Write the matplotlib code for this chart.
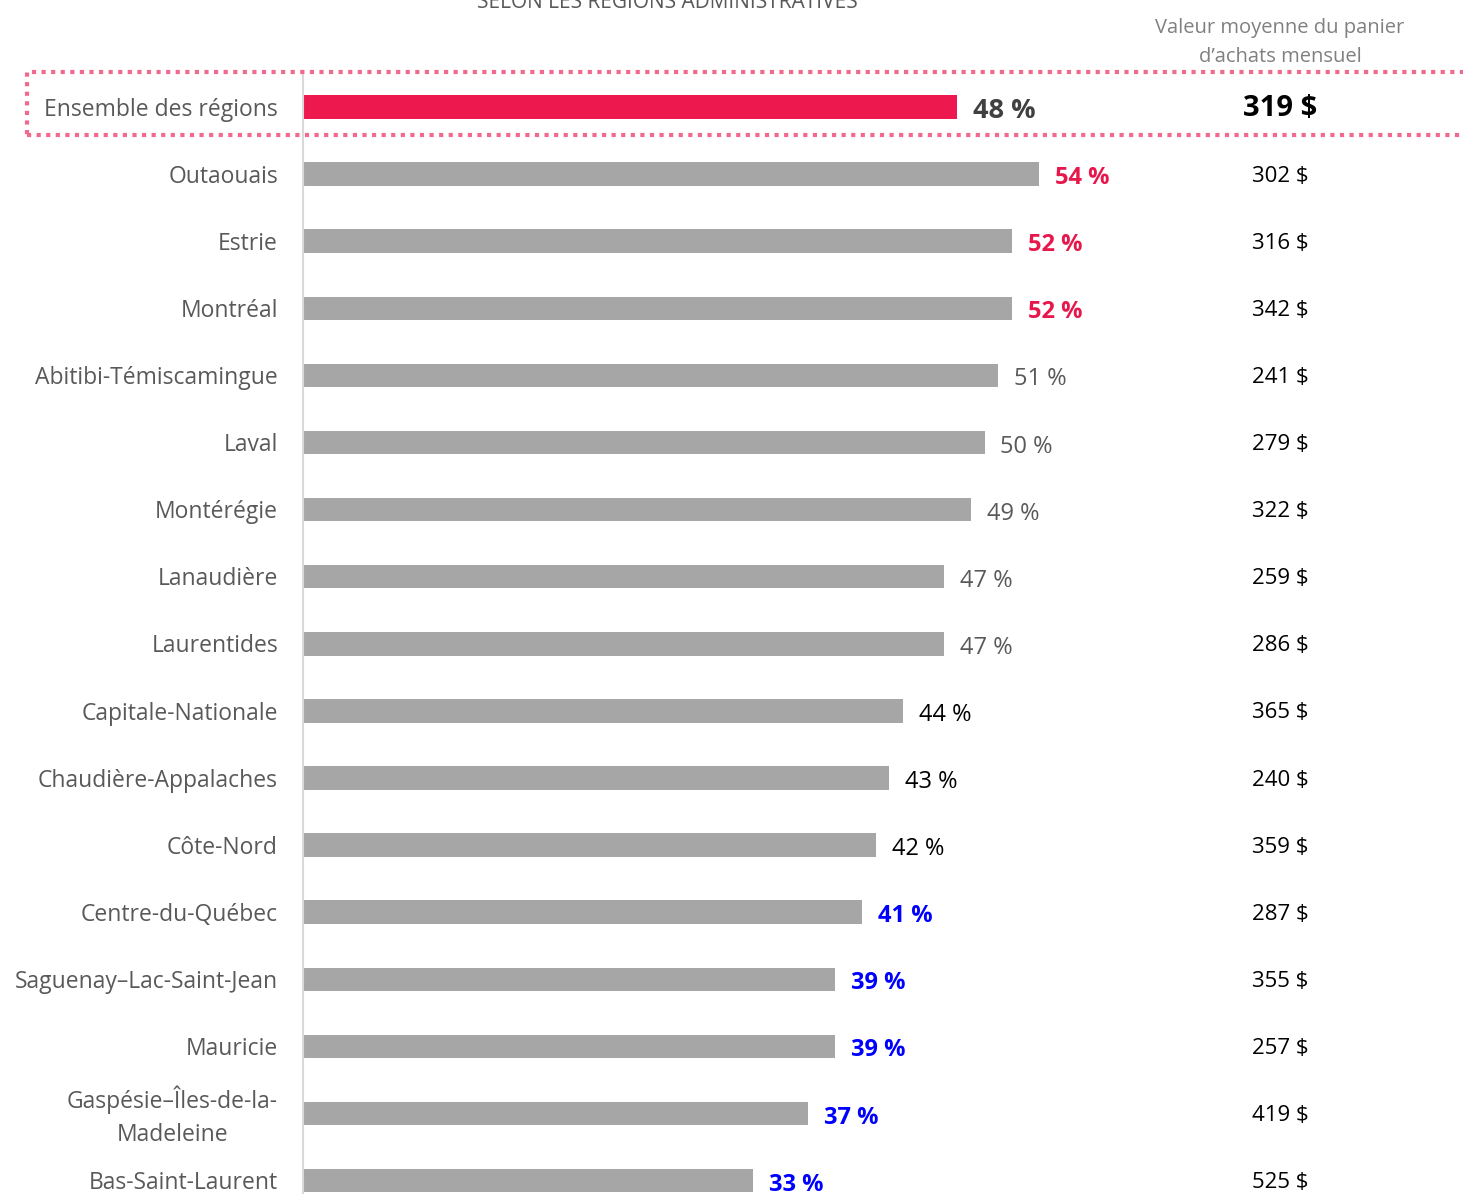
import matplotlib
matplotlib.use("Agg")
import matplotlib.pyplot as plt
from matplotlib.patches import Rectangle

plt.rcParams["font.family"] = ["Open Sans", "DejaVu Sans"]

regions = [
    "Ensemble des régions", "Outaouais", "Estrie", "Montréal",
    "Abitibi-Témiscamingue", "Laval", "Montérégie", "Lanaudière",
    "Laurentides", "Capitale-Nationale", "Chaudière-Appalaches",
    "Côte-Nord", "Centre-du-Québec", "Saguenay–Lac-Saint-Jean",
    "Mauricie", "Gaspésie–Îles-de-la-\nMadeleine", "Bas-Saint-Laurent",
]
pct = [48, 54, 52, 52, 51, 50, 49, 47, 47, 44, 43, 42, 41, 39, 39, 37, 33]
panier = [319, 302, 316, 342, 241, 279, 322, 259, 286, 365, 240, 359, 287, 355, 257, 419, 525]
# label style group: total / high / mid / plain / low
groups = ["total", "high", "high", "high", "mid", "mid", "mid", "mid", "mid",
          "plain", "plain", "plain", "low", "low", "low", "low", "low"]

label_style = {
    "total": dict(color="#404040", fontweight="bold"),
    "high": dict(color="#E8174B", fontweight="bold"),
    "mid": dict(color="#595959", fontweight="normal"),
    "plain": dict(color="#000000", fontweight="normal"),
    "low": dict(color="#0000FF", fontweight="bold"),
}

W, H = 1463, 1194
fig = plt.figure(figsize=(W / 100, H / 100), dpi=100)

x0 = 304
px_per_pct = 13.61
row0, row_step = 107, 67.1
ax = fig.add_axes([x0 / W, 0, 1 - x0 / W, 1])
ax.set_xlim(0, (W - x0) / px_per_pct)
ax.set_ylim((H - row0) / row_step, -row0 / row_step)
ax.axis("off")

ypos = list(range(len(regions)))
colors = ["#EC184E"] + ["#A6A6A6"] * (len(regions) - 1)
ax.barh(ypos, pct, height=0.35, color=colors)

# vertical axis line
ax.plot([-0.05, -0.05], [-0.52, (H - row0) / row_step], color="#D9D9D9", lw=1.5,
        clip_on=False)

xv = (1280 - x0) / px_per_pct
for y, name, p, v, g in zip(ypos, regions, pct, panier, groups):
    ax.text(-26 / px_per_pct, y + 0.04, name, ha="right", va="center", fontsize=16.5,
            color="#595959", multialignment="center", linespacing=1.5)
    fs = 19.5 if g == "total" else 17
    ax.text(p + 16 / px_per_pct, y + 0.06, f"{p} %", ha="left", va="center",
            fontsize=fs, **label_style[g])
    if g == "total":
        ax.text(xv, y + 0.02, f"{v} $", ha="center", va="center", fontsize=21,
                fontweight="bold", color="#000000")
    else:
        ax.text(xv, y + 0.03, f"{v} $", ha="center", va="center", fontsize=16,
                color="#000000")

ax.text(xv, -0.96, "Valeur moyenne du panier\nd’achats mensuel",
        ha="center", va="center", fontsize=14.5, color="#808080", linespacing=1.6)

ax.text((667 - x0) / px_per_pct, -row0 / row_step + 0.03, "SELON LES RÉGIONS ADMINISTRATIVES",
        ha="center", va="center", fontsize=15, color="#595959")

# dotted box around the overall row
box = Rectangle((27, H - 135), W - 27 + 10, 63, transform=None, fill=False,
                edgecolor="#F2698E", lw=3, linestyle=(0, (1, 1.3)))
fig.patches.append(box)

fig.savefig("out.png", dpi=100, facecolor="white")
